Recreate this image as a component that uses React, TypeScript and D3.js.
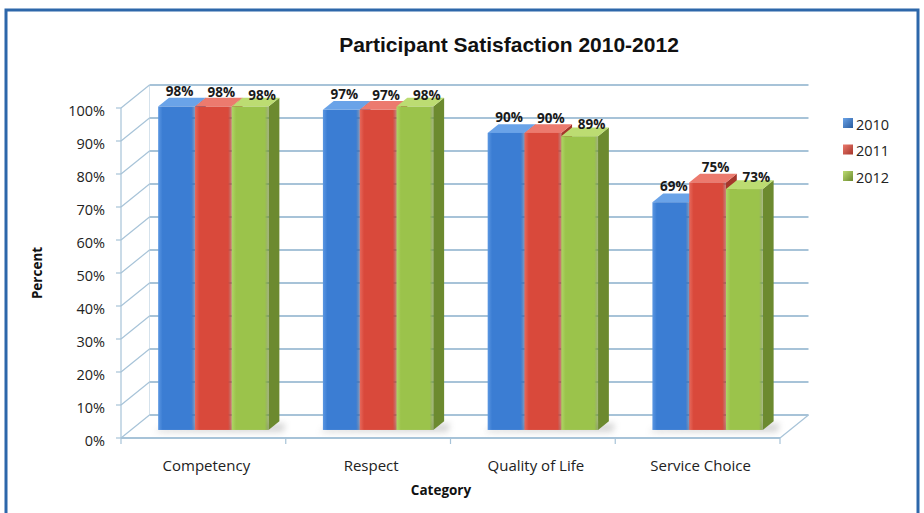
import React from "react";
import * as d3 from "d3";

const categories = ["Competency", "Respect", "Quality of Life", "Service Choice"];
const seriesNames = ["2010", "2011", "2012"];
const values2010 = [98, 97, 90, 69];
const values2011 = [98, 97, 90, 75];
const values2012 = [98, 98, 89, 73];
const yTicks = [0, 10, 20, 30, 40, 50, 60, 70, 80, 90, 100];

const seriesValues = [values2010, values2011, values2012];
const faceColors = [
  { front: "#3b7dd3", light: "#5b97e2", top: "#6aa3e8", side: "#2a5c9e" },
  { front: "#d9493b", light: "#e6695c", top: "#ec7a6e", side: "#a5352a" },
  { front: "#9bc34b", light: "#b0d466", top: "#bcdc72", side: "#6c8a2f" },
];
const labelDx = [3, 8, 12];
const labelDy = [16, 15, 12];

const W = 924;
const H = 513;
// 3D geometry
const FRONT_L = 121;
const FRONT_R = 780;
const DX = 28.5; // wall depth offset
const DY = -23;
const BAR_F = 0.35; // bar front depth fraction
const BAR_D = 0.38; // bar depth fraction

export default function App() {
  const yFront = d3.scaleLinear().domain([0, 100]).range([438, 108]);
  const xCat = d3
    .scaleBand<string>()
    .domain(categories)
    .range([FRONT_L, FRONT_R])
    .paddingInner(0.33)
    .paddingOuter(0.165);
  const xSer = d3
    .scaleBand<string>()
    .domain(seriesNames)
    .range([0, xCat.bandwidth()])
    .padding(0);

  const grid = "#a7c3d8";
  const bfx = DX * BAR_F;
  const bfy = DY * BAR_F;
  const bdx = DX * BAR_D;
  const bdy = DY * BAR_D;
  const pts = (a: number[][]) => a.map((p) => p.join(",")).join(" ");

  const bars: any[] = [];
  const labels: any[] = [];
  categories.forEach((c, ci) => {
    seriesNames.forEach((s, si) => {
      const v = seriesValues[si][ci];
      const x0 = (xCat(c) as number) + (xSer(s) as number) + bfx;
      const w = xSer.bandwidth();
      const x1 = x0 + w;
      const yb = yFront(0) + bfy;
      const yt = yFront(v) + bfy;
      const col = faceColors[si];
      bars.push(
        <g key={`b${ci}-${si}`}>
          <polygon
            points={pts([[x1, yt], [x1 + bdx, yt + bdy], [x1 + bdx, yb + bdy], [x1, yb]])}
            fill={col.side}
          />
          <polygon
            points={pts([[x0, yt], [x1, yt], [x1 + bdx, yt + bdy], [x0 + bdx, yt + bdy]])}
            fill={col.top}
          />
          <rect x={x0} y={yt} width={w} height={yb - yt} fill={`url(#grad${si})`} />
        </g>
      );
      labels.push(
        <text
          key={`l${ci}-${si}`}
          x={x0 + w / 2 + labelDx[si]}
          y={yt - labelDy[si]}
          textAnchor="middle"
          dominantBaseline="central"
          fontFamily="'Open Sans', sans-serif"
          fontWeight="bold"
          fontSize={13.5}
          fill="#1a1a1a"
        >
          {v}%
        </text>
      );
    });
  });

  return (
    <svg
      width={W}
      height={H}
      style={{ position: "absolute", left: 0, top: 0, background: "#fff" }}
    >
      <defs>
        {faceColors.map((c, i) => (
          <linearGradient key={i} id={`grad${i}`} x1="0" x2="1" y1="0" y2="0">
            <stop offset="0" stopColor={c.light} />
            <stop offset="0.12" stopColor={c.front} />
            <stop offset="0.9" stopColor={c.front} />
            <stop offset="1" stopColor={c.side} stopOpacity={0.6} />
          </linearGradient>
        ))}
        {faceColors.map((c, i) => (
          <linearGradient key={`lg${i}`} id={`leg${i}`} x1="0" x2="1" y1="0" y2="1">
            <stop offset="0" stopColor={c.top} />
            <stop offset="1" stopColor={c.side} />
          </linearGradient>
        ))}
        <filter id="blur" x="-50%" y="-50%" width="200%" height="200%">
          <feGaussianBlur stdDeviation="3" />
        </filter>
      </defs>

      {/* frame */}
      <rect x={6} y={10} width={912} height={520} fill="#fff" stroke="#2d67aa" strokeWidth={3} />

      {/* title */}
      <text
        x={509}
        y={52}
        textAnchor="middle"
        fontFamily="'Liberation Sans', Arial, sans-serif"
        fontWeight="bold"
        fontSize={21}
        fill="#111"
      >
        Participant Satisfaction 2010-2012
      </text>

      {/* back wall gridlines */}
      {yTicks.map((t) => (
        <line
          key={`g${t}`}
          x1={FRONT_L + DX}
          x2={FRONT_R + DX}
          y1={yFront(t) + DY}
          y2={yFront(t) + DY}
          stroke={grid}
          strokeWidth={1.8}
        />
      ))}
      {/* side wall diagonals */}
      {yTicks.map((t) => (
        <line
          key={`d${t}`}
          x1={FRONT_L}
          x2={FRONT_L + DX}
          y1={yFront(t)}
          y2={yFront(t) + DY}
          stroke={grid}
          strokeWidth={1.2}
        />
      ))}
      <line x1={FRONT_L} x2={FRONT_L} y1={yFront(0)} y2={yFront(100)} stroke={grid} strokeWidth={1.2} />
      <line x1={FRONT_L + DX} x2={FRONT_L + DX} y1={yFront(0) + DY} y2={yFront(100) + DY} stroke={grid} strokeWidth={0.8} opacity={0.6} />
      {/* floor */}
      <line x1={FRONT_L} x2={FRONT_R} y1={yFront(0)} y2={yFront(0)} stroke={grid} strokeWidth={1.8} />
      <line x1={FRONT_R} x2={FRONT_R + DX} y1={yFront(0)} y2={yFront(0) + DY} stroke={grid} strokeWidth={1.2} />
      {/* y ticks */}
      {yTicks.map((t) => (
        <line key={`yt${t}`} x1={FRONT_L - 5} x2={FRONT_L} y1={yFront(t)} y2={yFront(t)} stroke={grid} strokeWidth={1.2} />
      ))}
      {/* category ticks */}
      {[...categories.map((c) => (xCat(c) as number) - xCat.step() * 0.165), FRONT_R].map((x, i) => (
        <line key={`ct${i}`} x1={x} x2={x} y1={yFront(0)} y2={yFront(0) + 6} stroke={grid} strokeWidth={1.2} />
      ))}

      {/* bar shadows */}
      {categories.map((c) => {
        const x0 = (xCat(c) as number) + bfx;
        const yb = yFront(0) + bfy;
        return (
          <polygon
            key={`sh${c}`}
            points={pts([[x0 - 4, yb + 2], [x0 + xCat.bandwidth() + bdx + 4, yb + 2], [x0 + xCat.bandwidth() + bdx + 6, yb + bdy + 2], [x0 + 4, yb - 2]])}
            fill="#888"
            opacity={0.35}
            filter="url(#blur)"
          />
        );
      })}

      {bars}
      {labels}

      {/* y tick labels */}
      {yTicks.map((t) => (
        <text
          key={`yl${t}`}
          x={105}
          y={yFront(t) + 2}
          textAnchor="end"
          dominantBaseline="central"
          fontFamily="'Open Sans', sans-serif"
          fontSize={14.5}
          fill="#222"
        >
          {t}%
        </text>
      ))}

      {/* category labels */}
      {categories.map((c) => (
        <text
          key={`cl${c}`}
          x={(xCat(c) as number) + xCat.bandwidth() / 2 + 3}
          y={465}
          textAnchor="middle"
          dominantBaseline="central"
          fontFamily="'Open Sans', sans-serif"
          fontSize={15}
          fill="#222"
        >
          {c}
        </text>
      ))}

      {/* axis titles */}
      <text
        x={441}
        y={490}
        textAnchor="middle"
        dominantBaseline="central"
        fontFamily="'Open Sans', sans-serif"
        fontWeight="bold"
        fontSize={13.5}
        fill="#111"
      >
        Category
      </text>
      <text
        transform="translate(37,273) rotate(-90)"
        textAnchor="middle"
        dominantBaseline="central"
        fontFamily="'Open Sans', sans-serif"
        fontWeight="bold"
        fontSize={13.5}
        fill="#111"
      >
        Percent
      </text>

      {/* legend */}
      {seriesNames.map((s, i) => (
        <g key={`lg${s}`} transform={`translate(843,${123 + i * 26.5})`}>
          <rect x={0} y={-5} width={10} height={10} fill={`url(#leg${i})`} />
          <text
            x={13}
            y={1}
            dominantBaseline="central"
            fontFamily="'Open Sans', sans-serif"
            fontSize={14.5}
            fill="#222"
          >
            {s}
          </text>
        </g>
      ))}
    </svg>
  );
}
